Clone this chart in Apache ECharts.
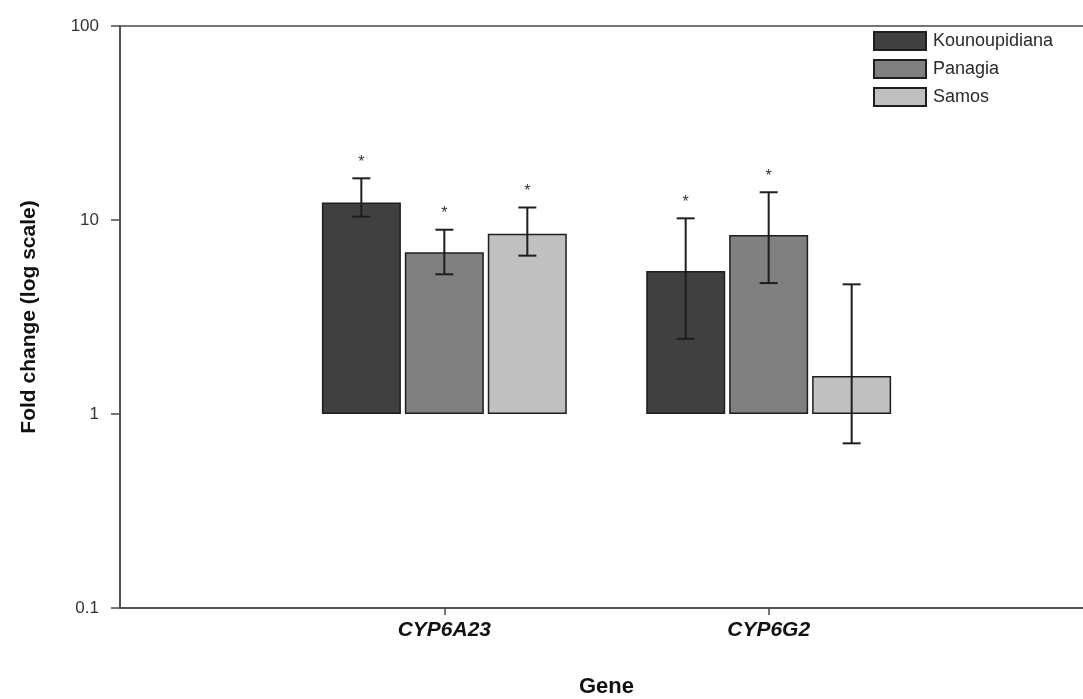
<!DOCTYPE html>
<html>
<head>
<meta charset="utf-8">
<script src="https://cdn.jsdelivr.net/npm/echarts@6/dist/echarts.min.js"></script>
<style>
  html, body { margin: 0; padding: 0; background: #fff; }
  #chart { width: 1083px; height: 699px; }
</style>
</head>
<body>
<div id="chart"></div>
<script>
// genes, padded with empty slots so the groups sit where they do in the figure
const genes = ['', 'CYP6A23', 'CYP6G2', '']
const populations = ['Kounoupidiana', 'Panagia', 'Samos']
// fold change (mean) per population, one value per gene slot
const kounoupidiana = ['-', 12.3, 5.46, '-']
const panagia = ['-', 6.82, 8.37, '-']
const samos = ['-', 8.5, 1.57, '-']
// error bar ends
const kounoupidianaLow = ['-', 10.4, 2.44, '-']
const kounoupidianaHigh = ['-', 16.4, 10.2, '-']
const panagiaLow = ['-', 5.25, 4.73, '-']
const panagiaHigh = ['-', 8.91, 13.9, '-']
const samosLow = ['-', 6.55, 0.706, '-']
const samosHigh = ['-', 11.6, 4.66, '-']
// significance marks
const kounoupidianaSig = ['', '*', '*', '']
const panagiaSig = ['', '*', '*', '']
const samosSig = ['', '*', '', '']
const yTicks = [0.1, 1, 10, 100]

const colors = ['#404040', '#808080', '#c0c0c0']
const barW = 79
const barStep = 83

const values = [kounoupidiana, panagia, samos]
const lows = [kounoupidianaLow, panagiaLow, samosLow]
const highs = [kounoupidianaHigh, panagiaHigh, samosHigh]
const sigs = [kounoupidianaSig, panagiaSig, samosSig]

// rows for the error bar series: [gene index, low, high, population index, mark]
const errData = []
populations.forEach((p, s) => {
  genes.forEach((g, i) => {
    if (lows[s][i] !== '-') errData.push([i, lows[s][i], highs[s][i], s, sigs[s][i]])
  })
})

const renderErr = (params, api) => {
  const i = api.value(0)
  const s = api.value(3)
  const lo = api.coord([i, api.value(1)])
  const hi = api.coord([i, api.value(2)])
  const x = lo[0] + (s - 1) * barStep
  const cap = 9
  const st = { stroke: '#1e1e1e', lineWidth: 2 }
  const children = [
    { type: 'line', shape: { x1: x, y1: hi[1], x2: x, y2: lo[1] }, style: st },
    { type: 'line', shape: { x1: x - cap, y1: hi[1], x2: x + cap, y2: hi[1] }, style: st },
    { type: 'line', shape: { x1: x - cap, y1: lo[1], x2: x + cap, y2: lo[1] }, style: st }
  ]
  const mark = errData[params.dataIndex][4]
  if (mark) {
    children.push({
      type: 'text',
      style: {
        text: mark, x: x, y: hi[1] - 16,
        align: 'center', verticalAlign: 'middle',
        font: '16px "Liberation Sans"', fill: '#333'
      }
    })
  }
  return { type: 'group', children: children }
}

const myChart = echarts.init(document.getElementById('chart'))
const option = {
  animation: false,
  textStyle: { fontFamily: '"Liberation Sans", Arial, sans-serif' },
  grid: {
    left: 120, top: 26, width: 973, height: 582,
    outerBoundsMode: 'none',
    containLabel: false,
    show: true, borderColor: '#4a4a4a', borderWidth: 1.5, backgroundColor: 'transparent'
  },
  legend: {
    data: populations,
    orient: 'vertical',
    left: 868, top: 26,
    itemWidth: 52, itemHeight: 18, itemGap: 8,
    icon: 'rect',
    textStyle: { fontSize: 18, color: '#2a2a2a', padding: [0, 0, 0, 2] }
  },
  xAxis: {
    type: 'category',
    data: genes,
    boundaryGap: false,
    name: 'Gene',
    nameLocation: 'middle',
    nameGap: 68,
    nameTextStyle: { fontSize: 22, fontWeight: 'bold', color: '#111' },
    axisLine: { lineStyle: { color: '#4a4a4a', width: 1.5 } },
    axisTick: {
      length: 7, inside: false,
      interval: (i, v) => v !== '',
      lineStyle: { color: '#4a4a4a', width: 1.5 }
    },
    axisLabel: {
      margin: 12,
      fontSize: 21, fontWeight: 'bold', fontStyle: 'italic', color: '#111'
    },
    splitLine: { show: false }
  },
  yAxis: {
    type: 'log',
    logBase: 10,
    min: yTicks[0],
    max: yTicks[yTicks.length - 1],
    name: 'Fold change (log scale)',
    nameLocation: 'middle',
    nameGap: 80,
    nameTextStyle: { fontSize: 21, fontWeight: 'bold', color: '#111' },
    axisLine: { show: true, lineStyle: { color: '#4a4a4a', width: 1.5 } },
    axisTick: { show: true, length: 9, lineStyle: { color: '#4a4a4a', width: 1.5 } },
    minorTick: { show: false },
    axisLabel: {
      margin: 21, fontSize: 17, color: '#333',
      formatter: v => String(v)
    },
    splitLine: { show: false }
  },
  series: populations.map((p, s) => ({
    name: p,
    type: 'bar',
    data: values[s],
    barWidth: barW,
    barGap: '5%',
    itemStyle: { color: colors[s], borderColor: '#1e1e1e', borderWidth: 1.5 }
  })).concat([{
    name: 'error',
    type: 'custom',
    renderItem: renderErr,
    data: errData,
    encode: { x: 0, y: [1, 2] },
    z: 10
  }])
}
myChart.setOption(option)
</script>
</body>
</html>
